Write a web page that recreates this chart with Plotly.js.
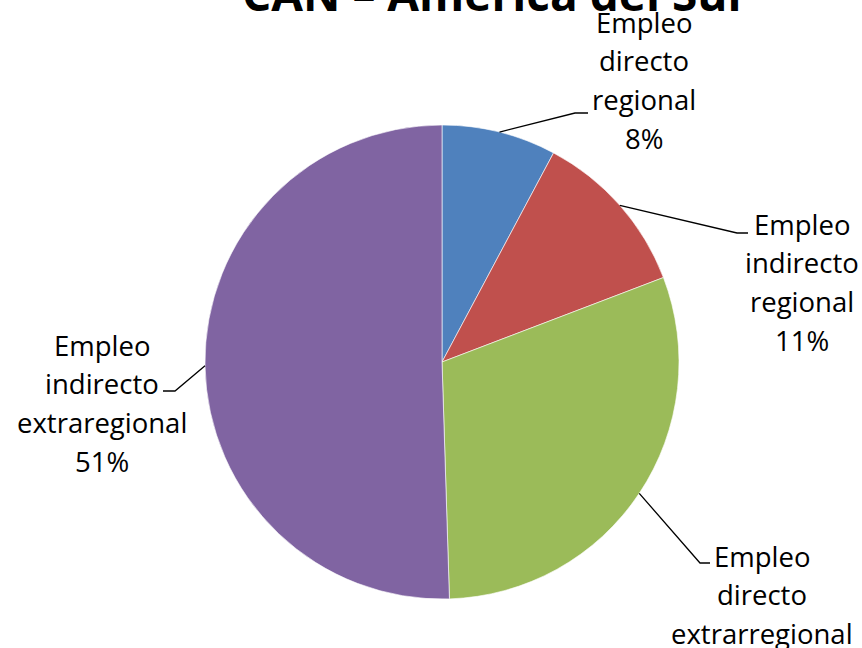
<!DOCTYPE html>
<html>
<head>
<meta charset="utf-8">
<script src="https://cdn.plot.ly/plotly-3.0.1.min.js"></script>
<style>html,body{margin:0;padding:0;background:#fff;}#chart{width:862px;height:648px;}</style>
</head>
<body>
<div id="chart"></div>
<script>
// Data
const categories = ["Empleo directo regional", "Empleo indirecto regional", "Empleo directo extrarregional", "Empleo indirecto extraregional"];
const labelLines = [["Empleo", "directo", "regional"], ["Empleo", "indirecto", "regional"], ["Empleo", "directo", "extrarregional"], ["Empleo", "indirecto", "extraregional"]];
const shares = [7.8, 11.4, 30.3, 50.5];
const percentLabels = ["8%", "11%", "30%", "51%"];
const colors = ["#4F81BD", "#C0504D", "#9BBB59", "#8064A2"];

// Layout constants (pixels)
const W = 862, H = 648;
const CX = 442, CY = 362, R = 237;
// label placement: text centre x, first-line centre y, leader elbow, leader end
const labelPos = [
  {x: 644, y: 22, ex: 575, ey: 113, tx: 588, ty: 113},
  {x: 802, y: 224, ex: 737, ey: 233, tx: 748, ty: 233},
  {x: 762, y: 556, ex: 700, ey: 563, tx: 710, ty: 563},
  {x: 102, y: 345, ex: 175, ey: 391, tx: 163, ty: 391}
];
const lineStep = 38.8;
const font = "Open Sans, Liberation Sans, sans-serif";

const px = x => x / W;
const py = y => 1 - y / H;

const total = shares.reduce((a, b) => a + b, 0);
const annotations = [];
const shapes = [];
let cum = 0;
shares.forEach((v, i) => {
  const mid = (cum + v / 2) / total * 2 * Math.PI;
  cum += v;
  const sx = CX + R * Math.sin(mid), sy = CY - R * Math.cos(mid);
  const p = labelPos[i];
  shapes.push({
    type: "path", xref: "paper", yref: "paper",
    path: `M ${px(sx)} ${py(sy)} L ${px(p.ex)} ${py(p.ey)} L ${px(p.tx)} ${py(p.ty)}`,
    line: {color: "#000000", width: 1.3}
  });
  const lines = labelLines[i].concat([percentLabels[i]]);
  lines.forEach((t, k) => {
    annotations.push({
      xref: "paper", yref: "paper", x: px(p.x), y: py(p.y + k * lineStep),
      xanchor: "center", yanchor: "middle", showarrow: false, text: t,
      font: {family: font, size: 27.5, color: "#000000"}
    });
  });
});

annotations.push({
  xref: "paper", yref: "paper", x: px(495), y: py(25), xanchor: "center", yanchor: "bottom",
  showarrow: false, text: "<b>CAN – América del Sur</b>",
  font: {family: font, size: 46, color: "#000000"}, borderpad: 0
});

const trace = {
  type: "pie",
  labels: categories,
  values: shares,
  sort: false,
  direction: "clockwise",
  rotation: 0,
  textinfo: "none",
  hoverinfo: "none",
  marker: {colors: colors, line: {color: "rgba(255,255,255,0.6)", width: 1}},
  domain: {x: [px(CX - R), px(CX + R)], y: [py(CY + R), py(CY - R)]}
};

const layout = {
  width: W, height: H,
  margin: {l: 0, r: 0, t: 0, b: 0},
  paper_bgcolor: "#ffffff",
  showlegend: false,
  annotations: annotations,
  shapes: shapes
};

Plotly.newPlot("chart", [trace], layout, {displayModeBar: false, staticPlot: true});
</script>
</body>
</html>
